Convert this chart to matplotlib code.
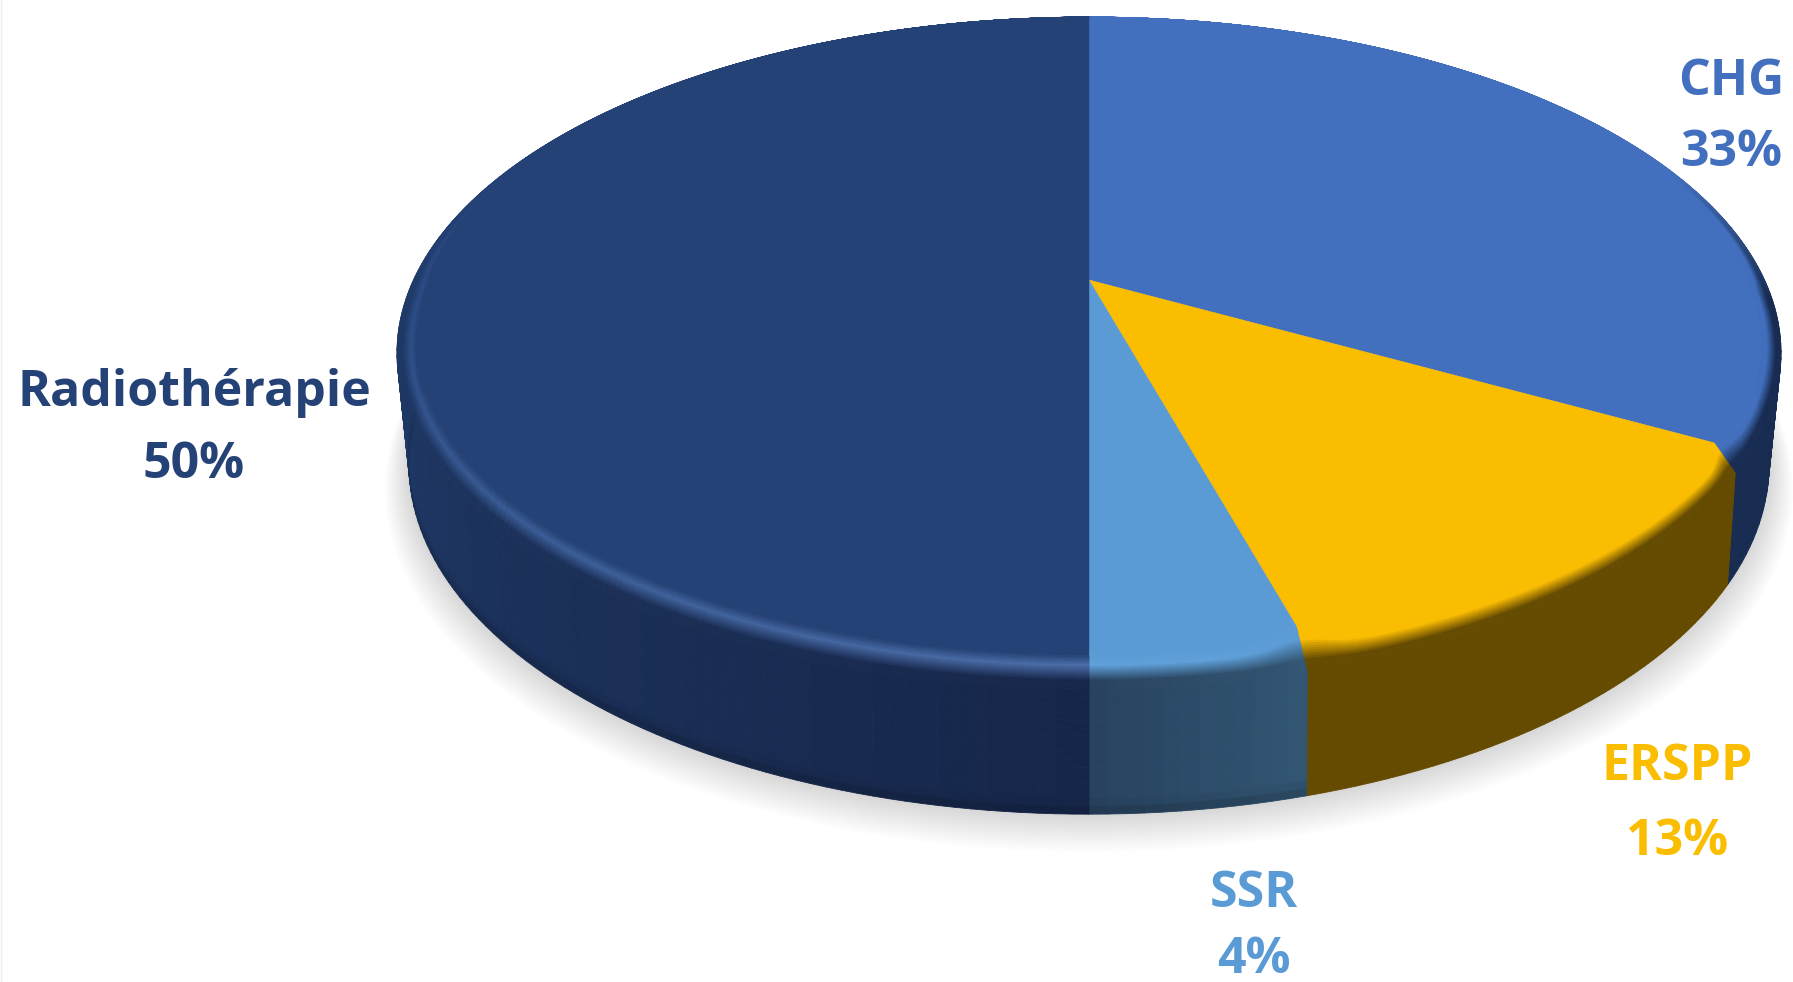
import numpy as np
import matplotlib
matplotlib.use("Agg")
import matplotlib.pyplot as plt
from matplotlib.collections import PolyCollection

# slices, clockwise from 12 o'clock (labels are rounded, the wedges are not)
names = ["CHG", "ERSPP", "SSR", "Radiothérapie"]
values = [33, 12.6, 4.4, 50]
top_colors = ["#4270be", "#fbbd00", "#5b9bd5", "#254276"]
glow_start = ["#4270be", "#fbbd00", "#5b9bd5", "#4a6ca8"]
glow_end = ["#4270be", "#fbbd00", "#5fa0da", "#2b4d86"]
side_start = ["#182c52", "#654b00", "#27425f", "#16264a"]
side_end = ["#182c52", "#654b00", "#325673", "#284e86"]
label_colors = ["#4270be", "#fbbd00", "#5b9bd5", "#254276"]

# label centres in pixels
label_x = [1731, 1677, 1254, 194]
label_y1 = [82, 767, 894, 393]
label_y2 = [153, 842, 960, 465]

# perspective of the discs in pixels: apex y, half width, half height, tilt
cx = 1089
top_disc = (280, 675.5, 320, 0.2174)
rim_disc = (302.6, 684.2, 328.4, 0.15)
base_disc = (407, 670.7, 340, 0.165)

edges = np.concatenate([[0], np.cumsum(values)]) / np.sum(values) * 2 * np.pi


def ring(theta, disc, r=1.0):
    ay, fx, fy, p = disc
    u = np.sin(theta) * r
    v = np.cos(theta) * r
    w = 1 + p * v
    return np.column_stack([cx + fx * u / w, ay - fy * v / w])


def flat_radius(theta):
    # the flat top stops short of the rim, mostly at the front,
    # and pulls in around the corners of the yellow wedge
    c = np.cos(theta)
    r = np.where(c > 0, 0.975 + 0.025 * np.sqrt(np.abs(c)), 0.975 - 0.04 * c ** 2)
    r = r - 0.015 * np.exp(-((theta - edges[1]) / 0.04) ** 2)
    r = r - 0.028 * np.exp(-((theta - edges[2]) / 0.05) ** 2)
    return r


def rgb(c):
    return np.array(matplotlib.colors.to_rgb(c))


fig = plt.figure(figsize=(17.93, 9.82), dpi=100)
ax = fig.add_axes([0, 0, 1, 1])
ax.set_xlim(0, 1793)
ax.set_ylim(982, 0)
ax.axis("off")
ax.axvline(0.5, color="#eeeeee", lw=1)

# soft shadow under the pie
full = np.linspace(0, 2 * np.pi, 361)
for k in range(14):
    pts = ring(full, base_disc, 1 + 0.0026 * k)
    ax.fill(pts[:, 0], pts[:, 1] + 1.6 * k, color="black", alpha=0.011, lw=0, zorder=1)

heights = np.linspace(0, 1, 17)

# walls
for i in range(len(values)):
    th = np.linspace(edges[i], edges[i + 1], max(int(values[i] * 3), 8))
    top = ring(th, rim_disc)
    bottom = ring(th, base_disc)
    quads, cols = [], []
    for a, b in zip(heights[:-1], heights[1:]):
        pa = top + (bottom - top) * a
        pb = top + (bottom - top) * b
        shade = 1.0
        if i >= 2:
            shade = 1 - 0.2 * max(0, (a + b) / 2 - 0.88) / 0.12
        for j in range(len(th) - 1):
            quads.append([pa[j], pa[j + 1], pb[j + 1], pb[j]])
            t = (j + 0.5) / (len(th) - 1)
            if i == 2:
                t = 1 - t
            c = rgb(side_end[i]) * t + rgb(side_start[i]) * (1 - t)
            cols.append(c * shade)
    ax.add_collection(PolyCollection(quads, facecolors=cols, edgecolors="face", linewidths=0.6, zorder=2))

# bevel ring and flat top
steps = np.linspace(0, 1, 19)
for i in range(len(values)):
    th = np.linspace(edges[i], edges[i + 1], max(int(values[i] * 6), 24))
    r_in = flat_radius(th)
    inner = ring(th, top_disc, r_in)
    outer = ring(th, rim_disc)
    flat = rgb(top_colors[i])
    quads, cols = [], []
    for a, b in zip(steps[:-1], steps[1:]):
        pa = inner + (outer - inner) * a
        pb = inner + (outer - inner) * b
        m = (a + b) / 2
        for j in range(len(th) - 1):
            quads.append([pa[j], pa[j + 1], pb[j + 1], pb[j]])
            t = (j + 0.5) / (len(th) - 1)
            g = min(1, t * 2)
            glow = rgb(glow_end[i]) * g + rgb(glow_start[i]) * (1 - g)
            if i == 2:
                t = 1 - t
            side = rgb(side_end[i]) * t + rgb(side_start[i]) * (1 - t)
            if m < 0.3:
                c = flat + (glow - flat) * m / 0.3
            elif m < 0.75:
                c = glow + (side - glow) * (m - 0.3) / 0.45
            else:
                c = side
            # no dark rim along the back of the pie
            mid = (th[j] + th[j + 1]) / 2
            keep = np.clip((0.4 - np.cos(mid)) / 0.4, 0, 1)
            cols.append(flat + (c - flat) * keep)
    ax.add_collection(PolyCollection(quads, facecolors=cols, edgecolors="face", linewidths=0.5, zorder=3))
    ax.fill(np.r_[cx, inner[:, 0]], np.r_[top_disc[0], inner[:, 1]], color=top_colors[i], lw=0.3, zorder=4)

# labels
for i in range(len(names)):
    ax.text(label_x[i], label_y1[i], names[i], color=label_colors[i], family="Open Sans",
            fontweight="bold", fontsize=36, ha="center", va="center")
    ax.text(label_x[i], label_y2[i], f"{values[i]:.0f}%", color=label_colors[i], family="Open Sans",
            fontweight="bold", fontsize=36, ha="center", va="center")

fig.savefig("out.png", dpi=100)
